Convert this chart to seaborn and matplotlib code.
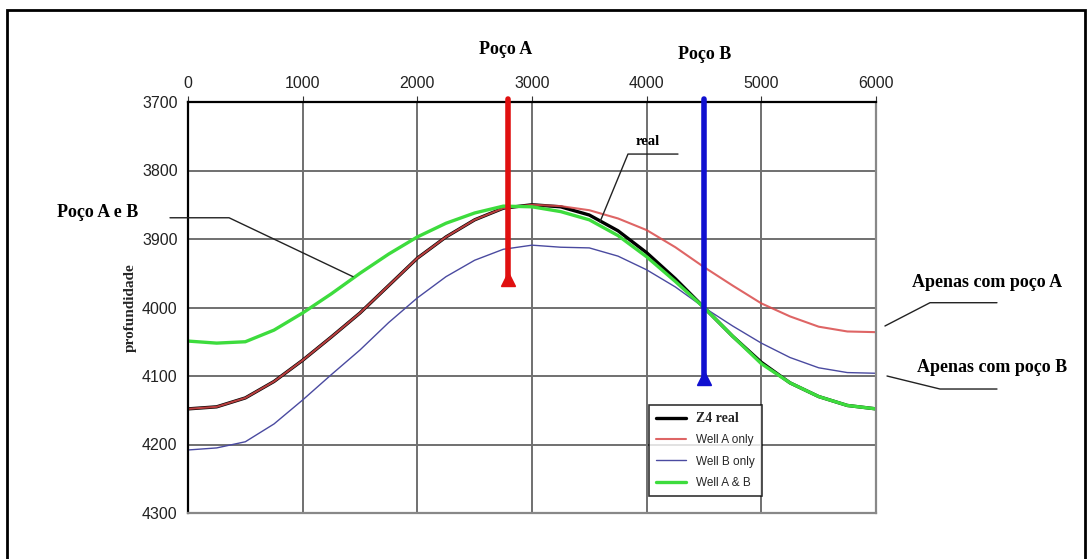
import numpy as np
import pandas as pd
import matplotlib
matplotlib.use("Agg")
import matplotlib.pyplot as plt
import seaborn as sns
from matplotlib.patches import Rectangle

# ---- dados ----
distancia = [0, 250, 500, 750, 1000, 1250, 1500, 1750, 2000, 2250, 2500, 2750,
             3000, 3250, 3500, 3750, 4000, 4250, 4500, 4750, 5000, 5250, 5500, 5750, 6000]

z4_real = [4148, 4145, 4132, 4108, 4077, 4043, 4008, 3968, 3928, 3897, 3872, 3855,
           3850, 3853, 3865, 3888, 3920, 3958, 4000, 4042, 4080, 4110, 4130, 4143, 4148]
well_a_only = [4148, 4145, 4132, 4108, 4077, 4043, 4008, 3968, 3928, 3897, 3872, 3855,
               3850, 3852, 3858, 3870, 3887, 3912, 3941, 3968, 3994, 4013, 4028, 4035, 4036]
well_b_only = [4208, 4205, 4196, 4170, 4135, 4098, 4062, 4022, 3986, 3955, 3931, 3915,
               3909, 3912, 3913, 3925, 3945, 3970, 4000, 4027, 4052, 4073, 4088, 4095, 4096]
well_ab = [4049, 4052, 4050, 4033, 4008, 3980, 3950, 3922, 3897, 3877, 3862, 3852,
           3853, 3860, 3872, 3895, 3926, 3962, 4000, 4042, 4082, 4110, 4130, 4143, 4148]

poco_a_x = 2790
poco_a_fundo = 3958
poco_b_x = 4500
poco_b_fundo = 4103
topo = 3695

x_ticks = [0, 1000, 2000, 3000, 4000, 5000, 6000]
y_ticks = [3700, 3800, 3900, 4000, 4100, 4200, 4300]

sns.set_style("white")
plt.rcParams['font.family'] = ['Liberation Sans', 'DejaVu Sans']

fig = plt.figure(figsize=(10.92, 5.59), dpi=100)
ax = fig.add_axes([188 / 1092, 1 - 513 / 559, 688 / 1092, 411 / 559])

# moldura externa
fig.patches.append(Rectangle((7 / 1092, -0.02), 1078 / 1092, 1 - 10 / 559 + 0.02,
                             transform=fig.transFigure, fill=False, ec='black', lw=2))

# curvas
sns.lineplot(x=distancia, y=z4_real, ax=ax, color='black', lw=2.4, label='Z4 real')
sns.lineplot(x=distancia, y=well_a_only, ax=ax, color='#d94a4a', lw=1.5, alpha=0.85, label='Well A only')
sns.lineplot(x=distancia, y=well_b_only, ax=ax, color='#4a4aa0', lw=1.0, label='Well B only')
sns.lineplot(x=distancia, y=well_ab, ax=ax, color='#3ddc3d', lw=2.4, label='Well A & B')

# poços
ax.plot([poco_a_x, poco_a_x], [topo, poco_a_fundo], color='#e01010', lw=4, clip_on=False, zorder=5)
ax.plot([poco_a_x], [poco_a_fundo], marker='^', color='#e01010', ms=10, zorder=5)
ax.plot([poco_b_x, poco_b_x], [topo, poco_b_fundo], color='#1010d0', lw=4, clip_on=False, zorder=5)
ax.plot([poco_b_x], [poco_b_fundo], marker='^', color='#1010d0', ms=10, zorder=5)

# eixos
ax.set_xlim(0, 6000)
ax.set_ylim(4300, 3700)
ax.xaxis.tick_top()
ax.set_xticks(x_ticks)
ax.set_yticks(y_ticks)
ax.set_yticks(np.arange(3750, 4300, 100), minor=True)
ax.grid(True, color='#707070', lw=1.4)
ax.tick_params(axis='both', which='major', labelsize=11.5, length=4, color='#333333', labelcolor='#222222')
ax.tick_params(axis='y', which='minor', length=4, color='#333333', direction='inout')
ax.tick_params(axis='x', pad=4)
for lado, cor in [('left', 'black'), ('top', 'black'), ('right', '#888888'), ('bottom', '#888888')]:
    ax.spines[lado].set_color(cor)
    ax.spines[lado].set_linewidth(1.6)
ax.set_xlabel('')
ax.set_ylabel('profundidade', family='Liberation Serif', fontweight='bold', fontsize=11, labelpad=4)

# legenda
leg = ax.legend(loc='upper left', bbox_to_anchor=(0.661, 0.278), frameon=True, fancybox=False,
                edgecolor='black', fontsize=8.5, handlelength=2.6, borderpad=0.6, labelspacing=0.8)
leg.get_frame().set_linewidth(1.2)
leg.set_zorder(10)
leg.get_texts()[0].set_fontfamily('Liberation Serif')
leg.get_texts()[0].set_fontweight('bold')
leg.get_texts()[0].set_fontsize(10)

# anotações
serif_b = dict(family='Liberation Serif', fontweight='bold', color='black')
ax.text(2773, 3624, 'Poço A', ha='center', va='center', fontsize=13, **serif_b)
ax.text(4509, 3631, 'Poço B', ha='center', va='center', fontsize=13, **serif_b)
ax.text(-785, 3862, 'Poço A e B', ha='center', va='center', fontsize=13, **serif_b)
ax.text(4012, 3757, 'real', ha='center', va='center', fontsize=10.5, **serif_b)
ax.text(6968, 3964, 'Apenas com poço A', ha='center', va='center', fontsize=13, **serif_b)
ax.text(7011, 4088, 'Apenas com poço B', ha='center', va='center', fontsize=13, **serif_b)

guia = dict(color='#222222', lw=1, clip_on=False, zorder=6)
ax.plot([-157, 358, 1439], [3869, 3869, 3955], **guia)
ax.plot([4273, 3837, 3593], [3776, 3776, 3875], **guia)
ax.plot([7055, 6471, 6078], [3993, 3993, 4027], **guia)
ax.plot([7055, 6558, 6096], [4119, 4119, 4100], **guia)

fig.savefig('out.png', dpi=100)
